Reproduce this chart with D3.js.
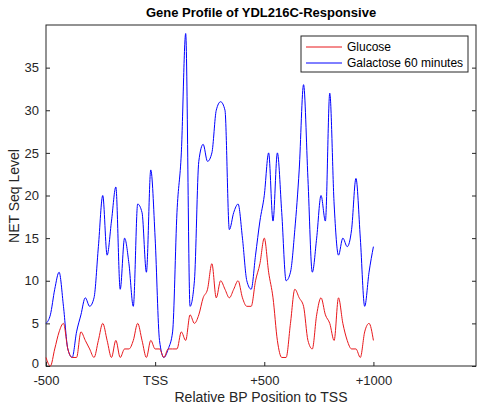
<!DOCTYPE html><html><head><script src="https://cdn.jsdelivr.net/npm/d3@7"></script>
<style>body{margin:0;background:#fff}text{font-family:Arial,"Liberation Sans",sans-serif}</style></head><body>
<svg id="c" width="480" height="409"></svg>
<script>
const positions=d3.range(-500,1001,20);
const glucose=[1,0,2,4,5,2,1,1,4,3,2,1,3,5,3,1,3,1,2,2,3,5,3,1,3,2,2,1,2,2,2,4,3,6,5,6,8,9,12,8,10,9,8,9,10,8,7,7,10,12,15,11,8,3,1,1,5,9,8,7,3,2,6,8,6,5,3,8,5,3,2,2,1,4,5,3];
const galactose=[5,6,9,11,7,2,1,4,6,8,7,8,14,20,13,17,21,9,15,12,7,19,18,11,23,15,3,1,2,4,18,25,39,7,10,24,26,24,25,30,31,30,16,18,19,15,10,9,13,17,20,25,17,25,18,10,11,16,23,33,22,11,15,20,17,32,19,13,15,14,16,22,15,7,11,14];
const xTicks=[-500,0,500,1000], xTickLabels=["-500","TSS","+500","+1000"];
const yTicks=[0,5,10,15,20,25,30,35];
const svg=d3.select("#c");
const L=46,R=476,T=25,B=366;
const x=d3.scaleLinear().domain([-500,1470]).range([L,R]);
const y=d3.scaleLinear().domain([0,40]).range([B,T]);
svg.append("rect").attr("x",L).attr("y",T).attr("width",R-L).attr("height",B-T).attr("fill","#fff").attr("stroke","#262626");
const line=d3.line().x((d,i)=>x(positions[i])).y(d=>y(d)).curve(d3.curveMonotoneX);
svg.append("path").datum(galactose).attr("d",line).attr("fill","none").attr("stroke","#0000ff").attr("stroke-width",1);
svg.append("path").datum(glucose).attr("d",line).attr("fill","none").attr("stroke","#e8171b").attr("stroke-width",1);
const xa=svg.append("g").attr("transform",`translate(0,${B})`).call(d3.axisBottom(x).tickValues(xTicks).tickFormat((d,i)=>xTickLabels[i]).tickSizeInner(-4).tickSizeOuter(0).tickPadding(10));
const ya=svg.append("g").attr("transform",`translate(${L},0)`).call(d3.axisLeft(y).tickValues(yTicks).tickSizeInner(-4).tickSizeOuter(0).tickPadding(7));
[xa,ya].forEach(a=>{a.select(".domain").remove();a.selectAll("line").attr("stroke","#262626");a.selectAll("text").attr("font-size",13).attr("fill","#262626");});
ya.selectAll("text").filter(d=>d===0).attr("dy","0.1em");
svg.append("g").attr("transform",`translate(${R},0)`).call(d3.axisRight(y).tickValues(yTicks).tickSizeInner(-4).tickFormat("")).call(g=>{g.select(".domain").remove();g.selectAll("line").attr("stroke","#262626");});
svg.append("text").attr("x",261).attr("y",17).attr("text-anchor","middle").attr("font-size",13).attr("font-weight","bold").attr("fill","#000").text("Gene Profile of YDL216C-Responsive");
svg.append("text").attr("x",261).attr("y",402).attr("text-anchor","middle").attr("font-size",14).attr("fill","#262626").text("Relative BP Position to TSS");
svg.append("text").attr("transform","translate(19,196) rotate(-90)").attr("text-anchor","middle").attr("font-size",14).attr("fill","#262626").text("NET Seq Level");
const lg=svg.append("g");
lg.append("rect").attr("x",301).attr("y",36).attr("width",167).attr("height",36).attr("fill","#fff").attr("stroke","#262626");
[["Glucose","#e8171b"],["Galactose 60 minutes","#0000ff"]].forEach((d,i)=>{
 const yy=47+i*16;
 lg.append("line").attr("x1",306).attr("x2",342).attr("y1",yy).attr("y2",yy).attr("stroke",d[1]);
 lg.append("text").attr("x",347).attr("y",yy+4).attr("font-size",12).attr("fill","#000").text(d[0]);
});
</script></body></html>
